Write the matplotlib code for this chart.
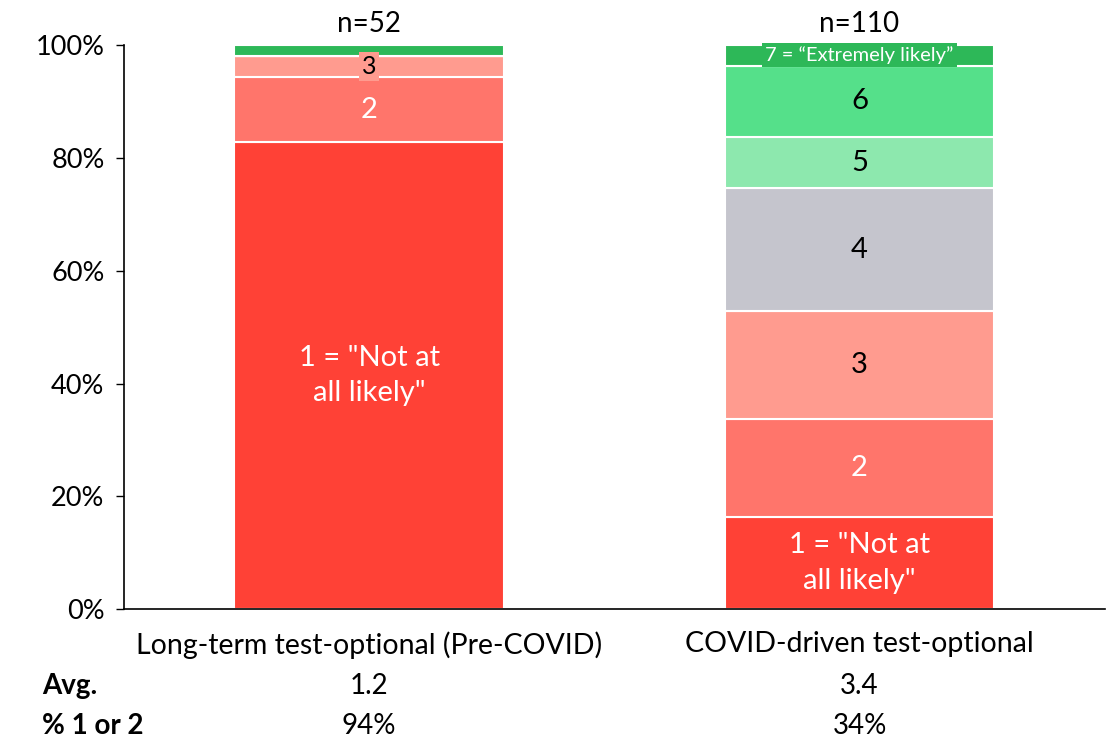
import numpy as np
import matplotlib.pyplot as plt

plt.rcParams['font.family'] = ['Lato', 'DejaVu Sans']

categories = ['Long-term test-optional (Pre-COVID)', 'COVID-driven test-optional']
n_labels = ['n=52', 'n=110']
avg_labels = ['1.2', '3.4']
pct12_labels = ['94%', '34%']

# share of responses (%) for ratings 1..7
pre_covid = [82.8, 11.5, 3.8, 0, 0, 0, 1.9]
covid = [16.4, 17.3, 19.1, 21.8, 9.1, 12.7, 3.6]

colors = ['#FF4136', '#FF756B', '#FF9B8F', '#C5C5CD', '#8DE8AE', '#55E08A', '#2DB858']
seg_labels = ['1 = "Not at\nall likely"', '2', '3', '4', '5', '6', '7 = \u201cExtremely likely\u201d']
label_colors = ['white', 'white', 'black', 'black', 'black', 'black', 'white']

fig = plt.figure(figsize=(11.17, 7.41), dpi=100)
ax = fig.add_axes([0.111, 0.178, 0.878, 0.761])

x = np.arange(len(categories))
width = 0.55
data = np.array([pre_covid, covid])
bottom = np.zeros(2)
for k in range(7):
    vals = data[:, k]
    ax.bar(x, vals, width, bottom=bottom, color=colors[k], edgecolor='white', linewidth=1.5)
    for i in range(2):
        yc = bottom[i] + vals[i] / 2
        if vals[i] <= 0 or (k == 6 and i == 0):
            continue
        if k == 6:
            ax.text(x[i], yc, seg_labels[k], ha='center', va='center', fontsize=14.5, color='white',
                    bbox=dict(boxstyle='square,pad=0.15', fc=colors[k], ec='none'))
        elif vals[i] < 5:
            ax.text(x[i], yc, seg_labels[k], ha='center', va='center', fontsize=18, color=label_colors[k],
                    bbox=dict(boxstyle='square,pad=0.12', fc=colors[k], ec='none'))
        else:
            ax.text(x[i], yc, seg_labels[k], ha='center', va='center', fontsize=21,
                    color=label_colors[k], linespacing=1.45)
    bottom += vals

for i in range(2):
    ax.text(x[i], 101.5, n_labels[i], ha='center', va='bottom', fontsize=20)

ax.set_xlim(-0.5, 1.5)
ax.set_ylim(0, 100)
ax.set_yticks(np.arange(0, 101, 20))
ax.set_yticklabels([f'{v}%' for v in range(0, 101, 20)], fontsize=19.5)
ax.set_xticks(x)
ax.set_xticklabels(categories, fontsize=20.5)
ax.tick_params(axis='x', length=0, pad=16)
ax.tick_params(axis='y', length=6, width=1, direction='out', pad=8)
for s in ['top', 'right']:
    ax.spines[s].set_visible(False)
for s in ['left', 'bottom']:
    ax.spines[s].set_linewidth(1.2)

fig.text(42 / 1117, 1 - 686 / 741, 'Avg.', fontsize=20, fontweight='bold', va='center', ha='left')
fig.text(42 / 1117, 1 - 726 / 741, '% 1 or 2', fontsize=20, fontweight='bold', va='center', ha='left')
for i in range(2):
    xf = ax.transData.transform((x[i], 0))[0] / fig.bbox.width
    fig.text(xf, 1 - 686 / 741, avg_labels[i], fontsize=20, va='center', ha='center')
    fig.text(xf, 1 - 726 / 741, pct12_labels[i], fontsize=20, va='center', ha='center')

fig.savefig('out.png', dpi=100)
